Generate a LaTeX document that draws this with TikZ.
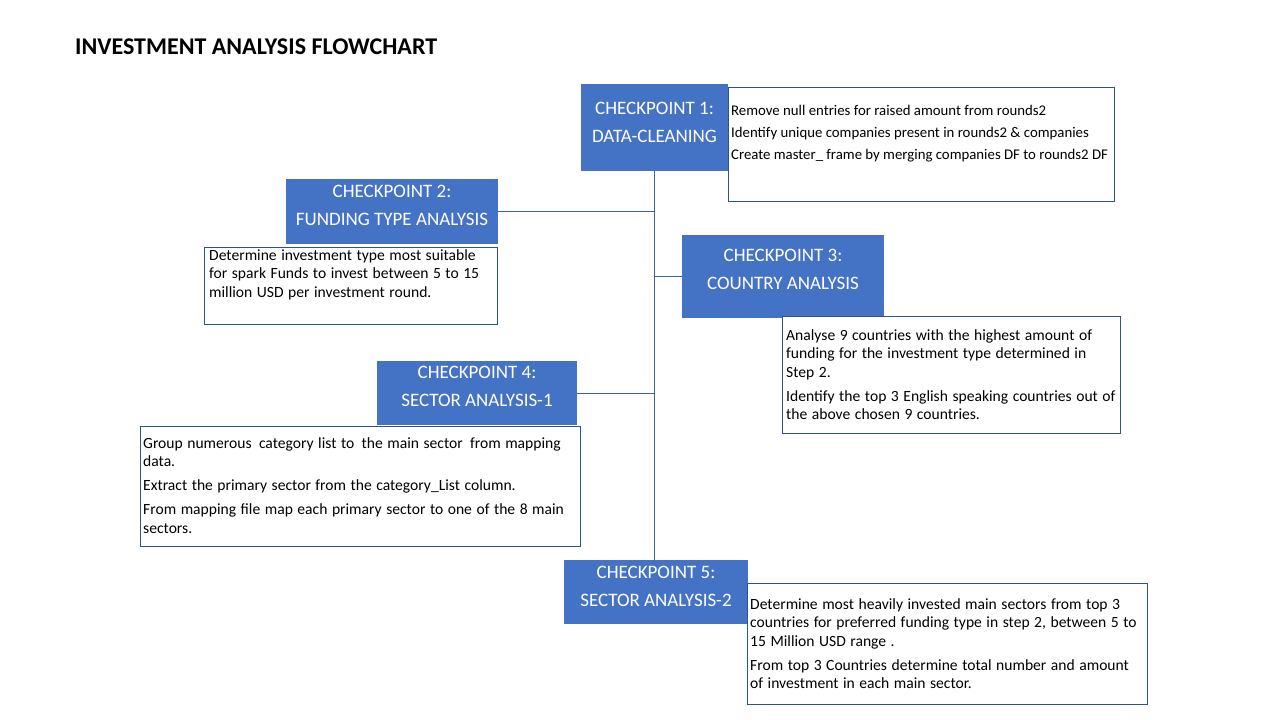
\documentclass[tikz,border=0pt]{standalone}
\usepackage{fontspec}
\setmainfont{Carlito}
\definecolor{cpblue}{HTML}{4472C4}
\definecolor{edgeblue}{HTML}{2F528F}
\definecolor{linkblue}{HTML}{3A62A8}
\newcommand\mydescspacing{\spaceskip=0.29em plus 0.1em minus 0.05em\relax}
\newcommand\myxsp{\hspace{0.18em}}
\tikzset{
  cpbox/.style={fill=cpblue, draw=none, inner sep=0pt, anchor=north west},
  cptext/.style={text=white, align=center, inner sep=0pt, anchor=north,
    font=\fontsize{19}{28}\selectfont},
  descbox/.style={fill=white, draw=edgeblue, line width=0.9pt, inner sep=0pt, anchor=north west},
  desctext/.style={text=black, align=left, inner sep=0pt, anchor=north west,
    font=\fontsize{15.6}{18.3}\selectfont\mydescspacing},
  link/.style={draw=linkblue, line width=1.2pt}
}
\begin{document}
\begin{tikzpicture}[x=1pt,y=-1pt]
\useasboundingbox[fill=white] (0,0) rectangle (1280,720);

\node[anchor=base west, inner sep=0pt, font=\fontsize{24}{28}\selectfont\bfseries] (title) at (75,54) {INVESTMENT ANALYSIS FLOWCHART};

% checkpoint boxes
\node[cpbox, minimum width=147pt, minimum height=87pt] (cp1) at (581,84) {};
\node[cpbox, minimum width=212pt, minimum height=65pt] (cp2) at (286,179) {};
\node[cpbox, minimum width=202pt, minimum height=83pt] (cp3) at (682,235) {};
\node[cpbox, minimum width=200pt, minimum height=64pt] (cp4) at (377,361) {};
\node[cpbox, minimum width=184pt, minimum height=64pt] (cp5) at (564,560) {};

% connectors
\draw[link] (cp1.south) -- (cp1.south |- cp5.north);
\draw[link] (cp2.east) -- (cp2.east -| cp1.south);
\draw[link] (cp3.west) -- (cp3.west -| cp1.south);
\draw[link] (cp4.east) -- (cp4.east -| cp1.south);

% checkpoint labels
\node[cptext] (cp1t) at (654.5,101.5) {CHECKPOINT 1:\\DATA-CLEANING};
\node[cptext] (cp2t) at (392,184.5) {CHECKPOINT 2:\\FUNDING TYPE ANALYSIS};
\node[cptext] (cp3t) at (783,248.5) {CHECKPOINT 3:\\COUNTRY ANALYSIS};
\node[cptext] (cp4t) at (477,365.5) {CHECKPOINT 4:\\SECTOR ANALYSIS-1};
\node[cptext] (cp5t) at (656,565.5) {CHECKPOINT 5:\\SECTOR ANALYSIS-2};

% description boxes
\node[descbox, minimum width=386pt, minimum height=114pt] (d1) at (728,87) {};
\node[descbox, minimum width=293pt, minimum height=77pt] (d2) at (204,247) {};
\node[descbox, minimum width=338pt, minimum height=117pt] (d3) at (782,316) {};
\node[descbox, minimum width=440pt, minimum height=120pt] (d4) at (140,426) {};
\node[descbox, minimum width=400pt, minimum height=121pt] (d5) at (747,583) {};

\node[desctext, font=\fontsize{14.8}{22}\selectfont] (d1t) at (731,105) {Remove null entries for raised amount from rounds2\\
Identify unique companies present in rounds2 \& companies\\
Create master\_ frame by merging companies DF to rounds2 DF};

\node[desctext] (d2t) at (209,249.5) {Determine investment type most suitable\\
for spark Funds to invest between 5 to 15\\
million USD per investment round.};

\node[desctext] (d3t) at (786,329.5) {Analyse 9 countries with the highest amount of\\
funding for the investment type determined in\\
Step 2.\\[6pt]
Identify the top 3 English speaking countries out of\\
the above chosen 9 countries.};

\node[desctext] (d4t) at (143,437) {Group numerous\myxsp{} category list to\myxsp{} the main sector\myxsp{} from mapping\\
data.\\[6pt]
Extract the primary sector from the category\_List column.\\[6pt]
From mapping file map each primary sector to one of the 8 main\\
sectors.};

\node[desctext] (d5t) at (750,598.5) {Determine most heavily invested main sectors from top 3\\
countries for preferred funding type in step 2, between 5 to\\
15 Million USD range .\\[6pt]
From top 3 Countries determine total number and amount\\
of investment in each main sector.};
\end{tikzpicture}
\end{document}
